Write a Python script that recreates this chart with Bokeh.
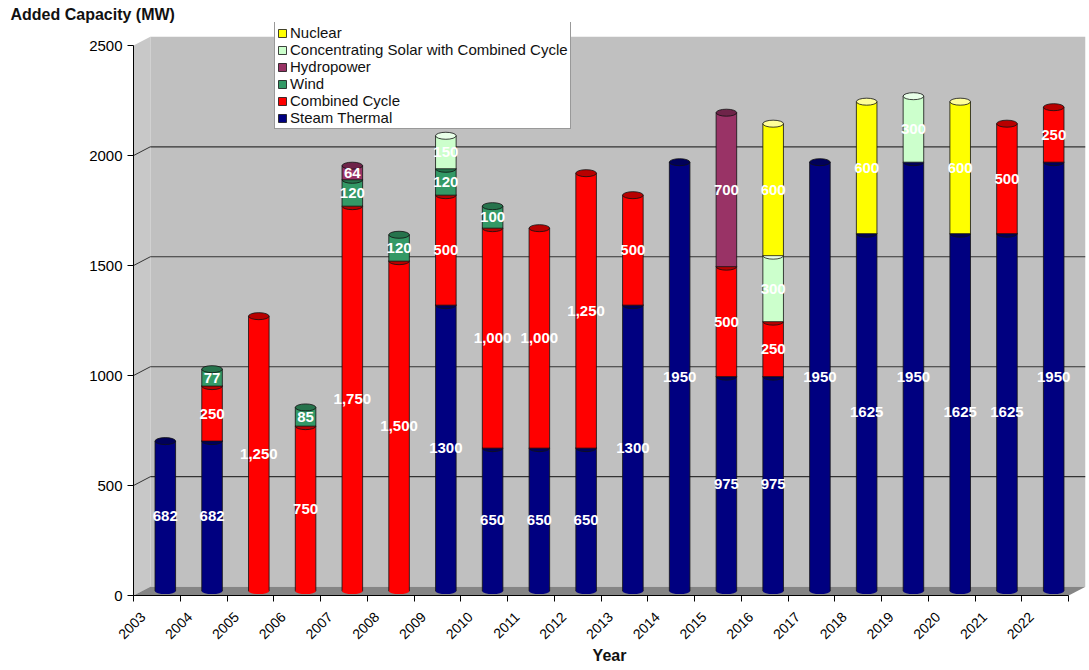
import numpy as np
from math import pi
from bokeh.plotting import figure
from bokeh.models import (ColumnDataSource, FixedTicker, Legend, LegendItem,
                          Range1d, LinearAxis)
from bokeh.core.properties import value
from bokeh.embed import file_html
from bokeh.resources import INLINE

# ---------------- data ----------------
years = ["2003", "2004", "2005", "2006", "2007", "2008", "2009", "2010", "2011",
         "2012", "2013", "2014", "2015", "2016", "2017", "2018", "2019", "2020",
         "2021", "2022"]
steam_thermal = [682, 682, 0, 0, 0, 0, 1300, 650, 650, 650, 1300, 1950, 975, 975,
                 1950, 1625, 1950, 1625, 1625, 1950]
combined_cycle = [0, 250, 1250, 750, 1750, 1500, 500, 1000, 1000, 1250, 500, 0,
                  500, 250, 0, 0, 0, 0, 500, 250]
wind = [0, 77, 0, 85, 120, 120, 120, 100, 0, 0, 0, 0, 0, 0, 0, 0, 0, 0, 0, 0]
hydropower = [0, 0, 0, 0, 64, 0, 0, 0, 0, 0, 0, 0, 700, 0, 0, 0, 0, 0, 0, 0]
solar_cc = [0, 0, 0, 0, 0, 0, 150, 0, 0, 0, 0, 0, 0, 300, 0, 0, 300, 0, 0, 0]
nuclear = [0, 0, 0, 0, 0, 0, 0, 0, 0, 0, 0, 0, 0, 600, 0, 600, 0, 600, 0, 0]
y_ticks = [0, 500, 1000, 1500, 2000, 2500]

series = [
    ("Steam Thermal", steam_thermal, "#000080", "#00005A", False),
    ("Combined Cycle", combined_cycle, "#FF0000", "#B80000", True),
    ("Wind", wind, "#339966", "#26734C", False),
    ("Hydropower", hydropower, "#993366", "#6E2449", False),
    ("Concentrating Solar with Combined Cycle", solar_cc, "#CCFFCC", "#E8FFE8", False),
    ("Nuclear", nuclear, "#FFFF00", "#FFFF99", False),
]

# ---------------- style constants ----------------
FONT = "Liberation Sans"
DX = 0.36      # 3D depth offset (x, category units)
DY = 40        # 3D depth offset (y, MW units)
BAR_W = 0.44
LABEL_SHIFT = 0.2   # centre rotated year labels on their ticks
n = len(years)
X_END = n + DX
WALL_TOP = y_ticks[-1] + DY
Y_END = 2605

p = figure(width=1089, height=670, output_backend="svg", toolbar_location=None,
           x_range=Range1d(0, X_END), y_range=Range1d(0, Y_END),
           min_border_left=133, min_border_right=4, min_border_top=22,
           min_border_bottom=75, title="Added Capacity (MW)")
p.title.align = "left"
p.title.offset = -123
p.title.standoff = 0
p.title.text_font = FONT
p.title.text_font_size = "16px"
p.title.text_font_style = "bold"
p.title.text_color = "#111111"
p.outline_line_color = None
p.background_fill_color = "white"
p.border_fill_color = "white"
p.xgrid.visible = False
p.ygrid.visible = False

# back wall, side wall and floor
p.quad(left=DX, right=X_END, bottom=DY, top=WALL_TOP, fill_color="#C0C0C0",
       line_color=None)
p.patch(x=[0, DX, DX, 0], y=[y_ticks[-1], WALL_TOP, DY, 0], fill_color="#C8C8C8",
        line_color=None)
p.patch(x=[0, n, X_END, DX], y=[0, 0, DY, DY], fill_color="#858585",
        line_color=None)
grid_vals = [v for v in y_ticks if 0 < v < y_ticks[-1]]
p.segment(x0=[DX] * len(grid_vals), x1=[X_END] * len(grid_vals),
          y0=[v + DY for v in grid_vals], y1=[v + DY for v in grid_vals],
          line_color="#333333", line_width=1.2)
p.segment(x0=[0] * len(grid_vals), x1=[DX] * len(grid_vals),
          y0=grid_vals, y1=[v + DY for v in grid_vals],
          line_color="#333333", line_width=1)

# bars
xc = np.arange(n) + 0.5 + DX / 2
cum = np.zeros(n)
renderers = {}
label_x, label_y, label_t = [], [], []
base_color = [None] * n
for name, vals, col, cap, comma in series:
    vals = np.array(vals, dtype=float)
    mask = vals > 0
    bottom = cum + DY / 2
    top = cum + vals + DY / 2
    src = ColumnDataSource(dict(x=xc[mask], bottom=bottom[mask], top=top[mask]))
    for i in np.where(mask)[0]:
        if base_color[i] is None:
            base_color[i] = col
    r = p.vbar(x="x", bottom="bottom", top="top", width=BAR_W, source=src,
               fill_color=col, line_color="#111111", line_width=0.8)
    renderers[name] = r
    p.ellipse(x=xc[mask], y=top[mask], width=BAR_W, height=7, height_units="screen",
              fill_color=cap, line_color="#111111", line_width=0.8)
    for i in np.where(mask)[0]:
        label_x.append(xc[i])
        label_y.append(cum[i] + vals[i] / 2 + DY / 2)
        label_t.append(f"{int(vals[i]):,}" if comma else f"{int(vals[i])}")
    cum = cum + vals

# rounded bottoms
p.ellipse(x=xc, y=[DY / 2] * n, width=BAR_W, height=6, height_units="screen",
          fill_color=base_color, line_color=None)

p.text(x=label_x, y=label_y, text=label_t, text_color="white",
       text_font=value(FONT), text_font_size="15px", text_font_style="bold",
       text_align="center", text_baseline="middle")

# y axis
yax = p.yaxis[0]
yax.ticker = FixedTicker(ticks=y_ticks)
yax.bounds = (0, y_ticks[-1])
yax.axis_line_color = "black"
yax.major_tick_line_color = "black"
yax.major_tick_out = 6
yax.major_tick_in = 0
yax.minor_tick_line_color = None
yax.major_label_text_font = FONT
yax.major_label_text_font_size = "15px"
yax.major_label_text_color = "black"

# x axis: tick marks only
xax = p.xaxis[0]
xax.ticker = FixedTicker(ticks=list(range(n + 1)))
xax.bounds = (0, n)
xax.major_label_overrides = {i: "" for i in range(n + 1)}
xax.major_label_text_font_size = "1px"
xax.major_label_standoff = 0
xax.axis_line_color = "black"
xax.major_tick_line_color = "black"
xax.major_tick_out = 6
xax.major_tick_in = 0
xax.minor_tick_line_color = None

# x axis: year labels centred under the ticks
p.extra_x_ranges = {"labels": Range1d(-LABEL_SHIFT, X_END - LABEL_SHIFT)}
lab_ax = LinearAxis(x_range_name="labels",
                    ticker=FixedTicker(ticks=list(range(n))),
                    major_label_overrides={i: years[i] for i in range(n)},
                    major_label_orientation=pi / 4,
                    major_label_standoff=7,
                    major_label_text_font=FONT,
                    major_label_text_font_size="14px",
                    major_label_text_color="black",
                    axis_line_color=None, major_tick_line_color=None,
                    minor_tick_line_color=None,
                    axis_label="Year", axis_label_text_font=FONT,
                    axis_label_text_font_size="16px",
                    axis_label_text_font_style="bold",
                    axis_label_text_color="#111111",
                    axis_label_standoff=0)
p.add_layout(lab_ax, "below")

# legend (top series first)
items = [LegendItem(label=name, renderers=[renderers[name]])
         for name, *_ in reversed(series)]
legend = Legend(items=items, location=(141, 466), orientation="vertical",
                glyph_width=10, glyph_height=10, label_height=15,
                label_standoff=3, spacing=0, padding=2, margin=0,
                label_text_font=FONT, label_text_font_size="15px",
                label_text_line_height=1.0,
                label_text_color="#111111", border_line_color="#333333",
                border_line_width=1.5, background_fill_color="white",
                background_fill_alpha=1)
p.add_layout(legend, "center")

open("out.html", "w").write(file_html(p, INLINE))
